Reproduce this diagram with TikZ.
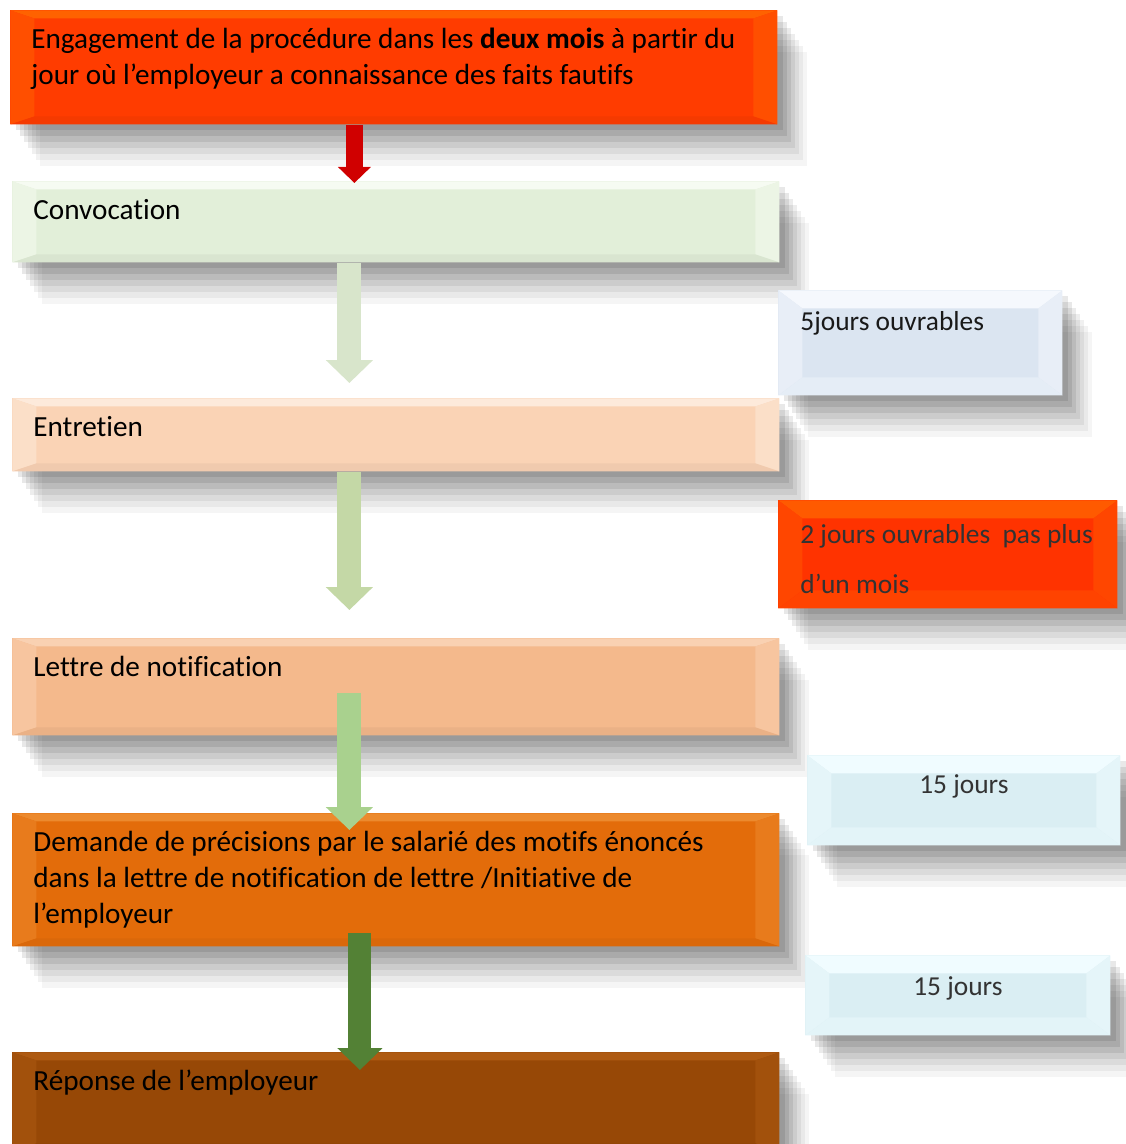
\documentclass[tikz,border=0pt]{standalone}
\usepackage{fontspec}
\setmainfont{Carlito}[Ligatures=NoCommon]
\usetikzlibrary{positioning,shadows,arrows.meta,calc}

\definecolor{rouge}{HTML}{FF3C00}
\definecolor{rougeclair}{HTML}{FF6200}
\definecolor{vertpale}{HTML}{E2EFD9}
\definecolor{vertpaleclair}{HTML}{F6FBF2}
\definecolor{peche}{HTML}{FAD3B5}
\definecolor{pecheclair}{HTML}{FDEADB}
\definecolor{saumon}{HTML}{F4B98C}
\definecolor{saumonclair}{HTML}{F9D1B2}
\definecolor{orange}{HTML}{E36C0A}
\definecolor{orangeclair}{HTML}{EC8A2E}
\definecolor{brun}{HTML}{974806}
\definecolor{brunclair}{HTML}{AE5A12}
\definecolor{bleupale}{HTML}{DBE5F1}
\definecolor{bleupaleclair}{HTML}{F5F8FD}
\definecolor{vif}{HTML}{FF3300}
\definecolor{vifclair}{HTML}{FF5A00}
\definecolor{ciel}{HTML}{DAEEF3}
\definecolor{cielclair}{HTML}{F0FCFF}
\definecolor{flechrouge}{HTML}{D00000}
\definecolor{flechA}{HTML}{D8E5CB}
\definecolor{flechB}{HTML}{C4D8A6}
\definecolor{flechC}{HTML}{A9D18E}
\definecolor{flechD}{HTML}{538135}

% bevel drawn inside a box
\newcommand{\biseau}[5]{%
  \coordinate (bnw) at (path picture bounding box.north west);
  \coordinate (bse) at (path picture bounding box.south east);
  \coordinate (bne) at (bse |- bnw);
  \coordinate (bsw) at (bnw |- bse);
  \coordinate (inw) at ($(bnw)+(#3,-#4)$);
  \coordinate (ine) at ($(bne)+(-#3,-#4)$);
  \coordinate (ise) at ($(bse)+(-#3,#4)$);
  \coordinate (isw) at ($(bsw)+(#3,#4)$);
  \fill[#2] (bnw) -- (bne) -- (ine) -- (inw) -- cycle;
  \fill[#1!50!#2] (bnw) -- (inw) -- (isw) -- (bsw) -- cycle;
  \fill[#1!50!#2] (bne) -- (ine) -- (ise) -- (bse) -- cycle;
  \fill[#5] (bsw) -- (isw) -- (ise) -- (bse) -- cycle;
}

\tikzset{
  ombre/.style={drop shadow={shadow xshift=3pt,shadow yshift=-3pt,opacity=.09,fill=black},
                drop shadow={shadow xshift=5pt,shadow yshift=-6pt,opacity=.09,fill=black},
                drop shadow={shadow xshift=7pt,shadow yshift=-9pt,opacity=.08,fill=black},
                drop shadow={shadow xshift=9pt,shadow yshift=-12pt,opacity=.07,fill=black},
                drop shadow={shadow xshift=11pt,shadow yshift=-15pt,opacity=.06,fill=black},
                drop shadow={shadow xshift=13pt,shadow yshift=-18pt,opacity=.05,fill=black},
                drop shadow={shadow xshift=15pt,shadow yshift=-21pt,opacity=.04,fill=black}},
  etape/.style 2 args={rectangle, anchor=north west, fill=#1, ombre,
                path picture={\biseau{#1}{#2}{12pt}{4pt}{#1!96!black}},
                text width=362.5pt, inner xsep=10.5pt, inner ysep=0pt, align=flush left,
                text height=19pt, font=\fontsize{14.6}{18}\selectfont},
  delai/.style 2 args={rectangle, anchor=north west, fill=#1, ombre,
                path picture={\biseau{#1}{#2}{12pt}{9pt}{#1!60!#2}},
                inner xsep=11pt, inner ysep=0pt, align=flush left,
                text=black!80, font=\fontsize{13.7}{16.5}\selectfont},
  fleche/.style 2 args={draw=#1, line width=#2, -{Triangle[width=0pt 1.9,length=0pt 0.95]}},
}

\begin{document}
\begin{tikzpicture}[x=0.5pt,y=-0.5pt]
\useasboundingbox (0,0) rectangle (1125,1144);

% steps
\node[etape={rouge}{rougeclair}, text depth=38pt] (engagement) at (10,10)
  {Engagement de la procédure dans les \textbf{deux mois} à partir du\\jour où l’employeur a connaissance des faits fautifs};
\node[etape={vertpale}{vertpaleclair}, text depth=21.5pt] (convocation) at (12,181) {Convocation};
\node[etape={peche}{pecheclair}, text depth=17.5pt] (entretien) at (12,398) {Entretien};
\node[etape={saumon}{saumonclair}, text depth=29.5pt] (notification) at (12,638) {Lettre de notification};
\node[etape={orange}{orangeclair}, text depth=47.5pt] (demande) at (12,813)
  {Demande de précisions par le salarié des motifs énoncés\\dans la lettre de notification de lettre /Initiative de\\l’employeur};
\node[etape={brun}{brunclair}, text depth=30.5pt] (reponse) at (12,1052) {Réponse de l’employeur};

% delays
\node[delai={bleupale}{bleupaleclair}, text width=120pt, text=black!90, text height=20pt, text depth=32.5pt] (cinqjours) at (778,290) {5jours ouvrables};
\node[delai={vif}{vifclair}, text width=147.5pt, text height=21.5pt, text depth=32.5pt,
      font=\fontsize{13.7}{25}\selectfont] (deuxjours) at (778,500) {\mbox{2 jours ouvrables\ \ pas plus}\\d’un mois};
\node[delai={ciel}{cielclair}, text width=134.5pt, align=flush center, text height=19pt, text depth=26pt] (quinzeA) at (807,755) {15 jours};
\node[delai={ciel}{cielclair}, text width=130.5pt, align=flush center, text height=20pt, text depth=20pt] (quinzeB) at (805,955) {15 jours};

% arrows
\draw[fleche={flechrouge}{8.5pt}] ([xshift=-20.75pt]convocation.north |- engagement.south) -- ([xshift=-20.75pt,yshift=-1pt]convocation.north);
\draw[fleche={flechA}{12pt}] ([xshift=-23.25pt]convocation.south) -- ([xshift=-23.25pt,yshift=7.5pt]entretien.north);
\draw[fleche={flechB}{12pt}] ([xshift=-23.25pt]entretien.south) -- ([xshift=-23.25pt,yshift=14pt]notification.north);
\draw[fleche={flechC}{12pt}] ([xshift=-23.25pt,yshift=21.5pt]notification.south) -- ([xshift=-23.25pt,yshift=-8.5pt]demande.north);
\draw[fleche={flechD}{11.5pt}] ([xshift=-18pt,yshift=7pt]demande.south) -- ([xshift=-18pt,yshift=-9pt]reponse.north);
\end{tikzpicture}
\end{document}
